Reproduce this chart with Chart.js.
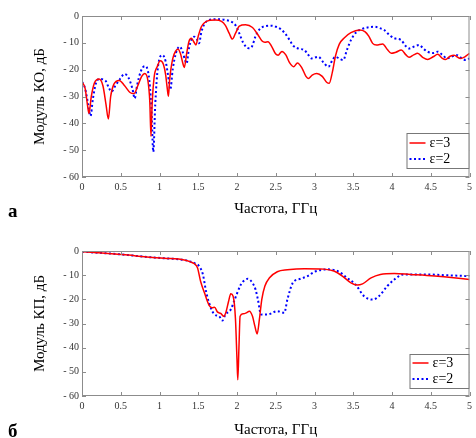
<!DOCTYPE html>
<html>
<head>
<meta charset="utf-8">
<script src="https://cdn.jsdelivr.net/npm/chart.js@4/dist/chart.umd.min.js"></script>
<style>
  html, body { margin: 0; padding: 0; background: #fff; }
  body { width: 476px; height: 438px; position: relative; overflow: hidden; }
  canvas { position: absolute; left: 0; }
  #chartKO { top: 0; }
  #chartKP { top: 219px; }
  .panel { position: absolute; left: 8px; font: bold 19px "Liberation Serif", serif; line-height: 19px; color: #000; }
</style>
</head>
<body>
<canvas id="chartKO" width="476" height="219"></canvas>
<canvas id="chartKP" width="476" height="219"></canvas>
<div class="panel" style="top:201px">а</div>
<div class="panel" style="top:421px">б</div>
<script>
// Axis ticks
const xTickValues = [0, 0.5, 1, 1.5, 2, 2.5, 3, 3.5, 4, 4.5, 5];
const xTickLabels = ['0', '0.5', '1', '1.5', '2', '2.5', '3', '3.5', '4', '4.5', '5'];
const yTickValues = [0, -10, -20, -30, -40, -50, -60];
const yTickLabels = ['0', '- 10', '- 20', '- 30', '- 40', '- 50', '- 60'];

const seriesLabels = ['\u03b5=3', '\u03b5=2'];

// Reflection coefficient magnitude (KO), dB — eps = 3
const freqKO_e3 = [0.00, 0.04, 0.07, 0.09, 0.12, 0.16, 0.22, 0.27, 0.31, 0.34, 0.37, 0.41, 0.48, 0.55, 0.62, 0.67, 0.72, 0.77, 0.81, 0.85, 0.875, 0.89, 0.905, 0.93, 0.97, 1.01, 1.05, 1.08, 1.10, 1.115, 1.13, 1.17, 1.21, 1.24, 1.27, 1.30, 1.32, 1.35, 1.38, 1.41, 1.44, 1.47, 1.50, 1.54, 1.58, 1.65, 1.72, 1.80, 1.85, 1.90, 1.94, 1.98, 2.03, 2.11, 2.20, 2.27, 2.32, 2.36, 2.40, 2.45, 2.50, 2.53, 2.58, 2.63, 2.68, 2.73, 2.78, 2.84, 2.89, 2.92, 2.97, 3.03, 3.10, 3.16, 3.19, 3.23, 3.27, 3.32, 3.39, 3.47, 3.58, 3.65, 3.70, 3.75, 3.80, 3.88, 3.94, 3.99, 4.05, 4.12, 4.18, 4.22, 4.28, 4.33, 4.40, 4.46, 4.53, 4.59, 4.65, 4.69, 4.75, 4.80, 4.88, 4.94, 5.00];
const koE3 = [-24.5, -27, -33, -36.3, -30, -25, -23.5, -26, -33, -38.4, -30, -25.5, -24, -26, -28.5, -28.9, -26, -22.5, -21.4, -24, -32, -44.8, -33, -23, -18.9, -16.7, -18, -22, -27, -29.9, -24, -16, -13, -12.4, -14, -17.5, -19.2, -14, -9.5, -8.3, -9.5, -10.8, -7.5, -4, -2.5, -1.6, -1.5, -2.0, -3.5, -6.5, -8.6, -6.5, -3.8, -3.3, -4.3, -7, -9.2, -9.8, -9.6, -11.5, -14.2, -14.6, -13.2, -14.5, -17.5, -18.9, -17.5, -19.5, -22.5, -23.3, -22, -21.4, -22.5, -24.8, -25.1, -21, -15, -10.5, -8, -6.2, -5.2, -5.8, -7.5, -10.2, -10.8, -10.4, -12.5, -13.9, -13.5, -12.7, -14.5, -15.4, -14.5, -13.9, -15.5, -16.2, -15.2, -14.3, -15.8, -16.2, -15.0, -14.6, -15.8, -15.2, -13.9];

// Reflection coefficient magnitude (KO), dB — eps = 2
const freqKO_e2 = [0.00, 0.04, 0.08, 0.11, 0.14, 0.18, 0.23, 0.30, 0.35, 0.38, 0.43, 0.49, 0.55, 0.60, 0.65, 0.68, 0.71, 0.76, 0.81, 0.86, 0.895, 0.92, 0.945, 0.98, 1.04, 1.08, 1.11, 1.14, 1.17, 1.21, 1.26, 1.30, 1.33, 1.35, 1.38, 1.42, 1.45, 1.48, 1.51, 1.54, 1.58, 1.65, 1.75, 1.85, 1.93, 1.98, 2.03, 2.08, 2.15, 2.19, 2.24, 2.29, 2.36, 2.45, 2.51, 2.57, 2.62, 2.68, 2.73, 2.80, 2.87, 2.92, 2.96, 3.05, 3.12, 3.18, 3.23, 3.27, 3.33, 3.37, 3.42, 3.47, 3.54, 3.60, 3.70, 3.77, 3.85, 3.90, 3.97, 4.03, 4.12, 4.17, 4.22, 4.30, 4.35, 4.41, 4.46, 4.53, 4.59, 4.65, 4.71, 4.78, 4.84, 4.90, 4.95, 5.00];
const koE2 = [-24.5, -27, -33, -37.3, -31, -25, -23.5, -24, -27, -28.2, -26, -23.5, -21.6, -23, -27, -30.7, -26, -20.5, -18.7, -22, -34, -50.6, -33, -19, -14.6, -17, -22, -27.4, -20, -14, -11.4, -13.5, -16.5, -17.7, -12, -8.3, -7.7, -8.5, -10.2, -6, -3, -1.4, -1.2, -1.5, -2.2, -3.4, -6.5, -10, -12, -11.5, -7.5, -5, -3.8, -3.6, -4.1, -5, -6.5, -9, -11.2, -12.2, -12.7, -14.5, -15.8, -15.2, -17.5, -18.9, -16.5, -15.2, -16, -16.4, -12.5, -9, -6, -5.0, -4.2, -4.0, -4.6, -5.2, -7.2, -8.3, -9, -11, -12.1, -11.2, -10.8, -12.3, -13.3, -13.8, -13.3, -14.5, -15.8, -15.0, -14.6, -15.8, -16.4, -15.8];

// Transmission coefficient magnitude (KP), dB — eps = 3
const freqKP_e3 = [0.00, 0.20, 0.38, 0.60, 0.81, 1.06, 1.32, 1.40, 1.45, 1.49, 1.53, 1.58, 1.64, 1.68, 1.71, 1.75, 1.79, 1.83, 1.86, 1.89, 1.92, 1.95, 1.98, 2.00, 2.01, 2.025, 2.04, 2.08, 2.12, 2.16, 2.20, 2.23, 2.26, 2.29, 2.32, 2.36, 2.42, 2.52, 2.65, 2.87, 3.12, 3.25, 3.36, 3.47, 3.55, 3.62, 3.73, 3.85, 4.03, 4.24, 4.45, 4.67, 5.00];
const kpE3 = [-0.3, -0.7, -1.1, -1.7, -2.4, -3.0, -3.7, -4.5, -5.3, -6.9, -12.5, -17.3, -22.5, -23.5, -23.3, -25.3, -25.8, -27, -25, -21, -17.7, -18.7, -28, -45, -53.3, -40, -27, -26, -25.6, -24.9, -27, -31, -34.3, -28, -20, -14.5, -11.1, -8.6, -7.8, -7.3, -7.5, -8.3, -10.4, -13.2, -14.1, -13.6, -11.1, -9.7, -9.3, -9.7, -10.1, -10.7, -11.8];

// Transmission coefficient magnitude (KP), dB — eps = 2
const freqKP_e2 = [0.00, 0.20, 0.38, 0.60, 0.81, 1.06, 1.32, 1.40, 1.45, 1.51, 1.56, 1.60, 1.64, 1.71, 1.77, 1.81, 1.85, 1.92, 1.97, 2.05, 2.10, 2.14, 2.20, 2.24, 2.27, 2.31, 2.39, 2.52, 2.61, 2.65, 2.72, 2.82, 2.91, 3.00, 3.17, 3.30, 3.42, 3.53, 3.64, 3.75, 3.83, 3.94, 4.03, 4.15, 4.45, 4.67, 5.00];
const kpE2 = [-0.3, -0.7, -1.1, -1.7, -2.4, -3.0, -3.7, -4.4, -5.0, -6.2, -9.7, -16.6, -21.5, -26.3, -27, -28.8, -26.3, -24.2, -20.1, -13.9, -12, -11.5, -13.2, -16, -20.1, -26.3, -26.3, -24.9, -25.6, -20.1, -13.2, -11.5, -10.4, -8.6, -7.6, -8.3, -11.1, -13.9, -18.7, -20.1, -18.7, -14.5, -11.8, -9.7, -9.7, -10.0, -10.4];

const toPoints = (xs, ys) => xs.map((x, i) => ({ x, y: ys[i] }));

const SERIF = '"Liberation Serif", "Times New Roman", serif';

// Frame around the plot area with inward tick marks on all four sides
const frameTicks = {
  id: 'frameTicks',
  afterDraw(chart) {
    const { ctx, chartArea: a, scales: { x, y } } = chart;
    ctx.save();
    ctx.strokeStyle = '#8c8c8c';
    ctx.lineWidth = 1;
    ctx.setLineDash([]);
    ctx.strokeRect(a.left + 0.5, a.top + 0.5, a.right - a.left - 1, a.bottom - a.top - 1);
    const len = 4;
    ctx.beginPath();
    x.ticks.forEach(t => {
      const px = Math.round(x.getPixelForValue(t.value)) + 0.5;
      ctx.moveTo(px, a.bottom); ctx.lineTo(px, a.bottom - len);
      ctx.moveTo(px, a.top); ctx.lineTo(px, a.top + len);
    });
    y.ticks.forEach(t => {
      const py = Math.round(y.getPixelForValue(t.value)) + 0.5;
      ctx.moveTo(a.left, py); ctx.lineTo(a.left + len, py);
      ctx.moveTo(a.right, py); ctx.lineTo(a.right - len, py);
    });
    ctx.stroke();
    ctx.restore();
  }
};

// Boxed legend in the lower right corner of the plot area
const boxLegend = {
  id: 'boxLegend',
  afterDraw(chart, args, opts) {
    const { ctx, chartArea: a } = chart;
    const left = a.right - opts.width;
    const top = a.bottom - opts.gap - opts.height;
    ctx.save();
    ctx.fillStyle = '#fff';
    ctx.fillRect(left, top, opts.width, opts.height);
    ctx.strokeStyle = '#777';
    ctx.lineWidth = 1;
    ctx.strokeRect(left + 0.5, top + 0.5, opts.width - 1, opts.height - 1);
    chart.data.datasets.forEach((ds, i) => {
      const yy = top + opts.rows[i];
      ctx.strokeStyle = ds.borderColor;
      ctx.lineWidth = ds.borderWidth;
      ctx.setLineDash(ds.borderDash || []);
      ctx.beginPath();
      ctx.moveTo(left + 3, yy);
      ctx.lineTo(left + 19, yy);
      ctx.stroke();
      ctx.setLineDash([]);
      ctx.fillStyle = '#000';
      ctx.font = '14px ' + SERIF;
      ctx.textBaseline = 'middle';
      ctx.textAlign = 'left';
      ctx.fillText(ds.label, left + 23, yy);
    });
    ctx.restore();
  }
};

function makeChart(id, yTitle, topPad, xTitlePad, legendOpts, e3, e2) {
  return new Chart(document.getElementById(id), {
    type: 'line',
    data: {
      datasets: [
        { label: seriesLabels[0], data: e3, borderColor: '#ff0000', borderWidth: 1.5,
          pointRadius: 0, fill: false, cubicInterpolationMode: 'monotone' },
        { label: seriesLabels[1], data: e2, borderColor: '#0000ff', borderWidth: 2,
          borderDash: [2, 2.5], pointRadius: 0, fill: false, cubicInterpolationMode: 'monotone' }
      ]
    },
    options: {
      responsive: false,
      animation: false,
      devicePixelRatio: 1,
      layout: { padding: { left: 0, right: 4, top: topPad, bottom: 0 } },
      plugins: {
        legend: { display: false },
        tooltip: { enabled: false },
        boxLegend: legendOpts
      },
      scales: {
        x: {
          type: 'linear', min: 0, max: 5,
          afterBuildTicks(s) { s.ticks = xTickValues.map(v => ({ value: v })); },
          ticks: {
            font: { family: SERIF, size: 10 }, color: '#333', padding: 4, maxRotation: 0,
            autoSkip: false,
            callback: v => xTickLabels[xTickValues.indexOf(v)]
          },
          grid: { display: false, drawTicks: false },
          border: { display: false },
          title: { display: true, text: 'Частота, ГГц', color: '#000',
                   font: { family: SERIF, size: 15, lineHeight: 1 },
                   padding: { top: 0, bottom: xTitlePad } },
          afterFit(s) { s.height = 42; }
        },
        y: {
          type: 'linear', min: -60, max: 0,
          afterBuildTicks(s) { s.ticks = yTickValues.slice().reverse().map(v => ({ value: v })); },
          ticks: {
            font: { family: SERIF, size: 10 }, color: '#333', padding: 3,
            autoSkip: false,
            callback: v => yTickLabels[yTickValues.indexOf(v)]
          },
          grid: { display: false, drawTicks: false },
          border: { display: false },
          title: { display: true, text: yTitle, color: '#000',
                   font: { family: SERIF, size: 15, lineHeight: 1 },
                   padding: { top: 33, bottom: 0 } },
          afterFit(s) { s.width = 82; }
        }
      }
    },
    plugins: [frameTicks, boxLegend]
  });
}

makeChart('chartKO', 'Модуль КО, дБ', 16, 2,
  { width: 63, height: 36, gap: 8, rows: [10, 26] },
  toPoints(freqKO_e3, koE3), toPoints(freqKO_e2, koE2));

makeChart('chartKP', 'Модуль КП, дБ', 32, 0,
  { width: 60, height: 35, gap: 7, rows: [9, 25] },
  toPoints(freqKP_e3, kpE3), toPoints(freqKP_e2, kpE2));
</script>
</body>
</html>
